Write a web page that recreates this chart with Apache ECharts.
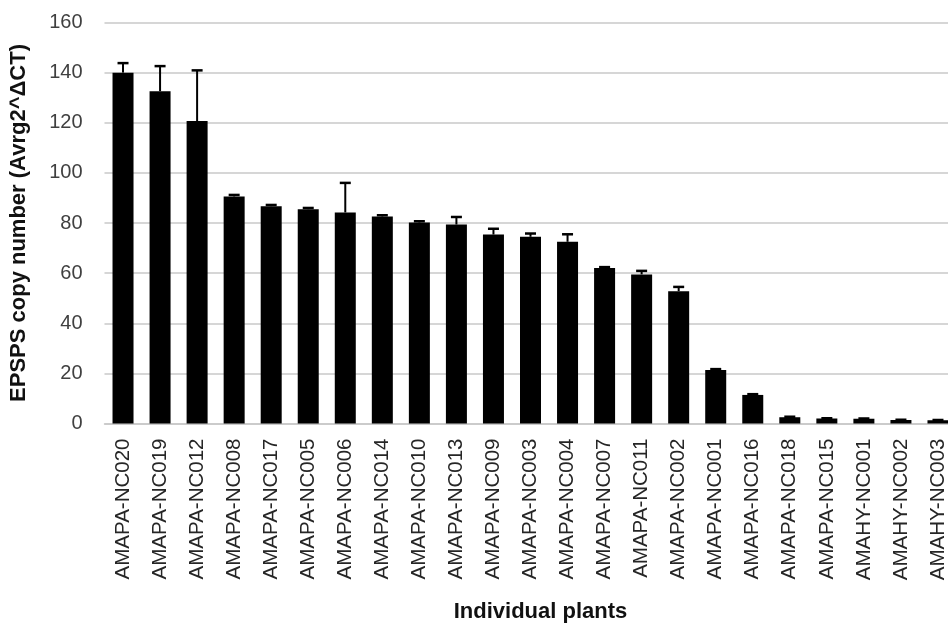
<!DOCTYPE html>
<html>
<head>
<meta charset="utf-8">
<script src="https://cdn.jsdelivr.net/npm/echarts@6/dist/echarts.min.js"></script>
<style>html,body{margin:0;padding:0;background:#fff}#c{width:948px;height:628px}</style>
</head>
<body>
<div id="c"></div>
<script>
const categories = ["AMAPA-NC020","AMAPA-NC019","AMAPA-NC012","AMAPA-NC008","AMAPA-NC017","AMAPA-NC005","AMAPA-NC006","AMAPA-NC014","AMAPA-NC010","AMAPA-NC013","AMAPA-NC009","AMAPA-NC003","AMAPA-NC004","AMAPA-NC007","AMAPA-NC011","AMAPA-NC002","AMAPA-NC001","AMAPA-NC016","AMAPA-NC018","AMAPA-NC015","AMAHY-NC001","AMAHY-NC002","AMAHY-NC003"];
const copyNumber = [140.0,132.6,120.7,90.6,86.7,85.5,84.2,82.6,80.2,79.4,75.4,74.5,72.5,62.0,59.5,52.8,21.3,11.4,2.5,2.0,1.9,1.4,1.3];
const errorUp = [3.8,10.0,20.2,0.6,0.5,0.5,11.8,0.5,0.5,3.0,2.3,1.3,3.0,0.4,1.4,1.7,0.4,0.3,0.2,0.1,0.1,0.1,0.1];
const yTicks = [0,20,40,60,80,100,120,140,160];

const chart = echarts.init(document.getElementById('c'));
const errData = copyNumber.map((v, i) => [i, v, v + errorUp[i]]);
chart.setOption({
  animation: false,
  grid: { left: 104.5, top: 22.5, width: 852, height: 401, containLabel: false, outerBoundsMode: 'none' },
  xAxis: {
    type: 'category',
    data: categories,
    axisLine: { lineStyle: { color: '#c8c8c8', width: 1.5 } },
    axisTick: { show: false },
    axisLabel: { rotate: 90, margin: 15, fontSize: 20.5, color: '#262626', fontFamily: 'Liberation Sans', interval: 0 },
    name: 'Individual plants',
    nameLocation: 'middle',
    nameGap: 177,
    nameTextStyle: { fontSize: 22, fontWeight: 'bold', color: '#111', fontFamily: 'Liberation Sans', padding: [0, 0, 0, 20] }
  },
  yAxis: {
    type: 'value',
    min: yTicks[0], max: yTicks[yTicks.length - 1], interval: 20,
    axisLine: { show: false },
    axisTick: { show: false },
    splitLine: { lineStyle: { color: '#c8c8c8', width: 1.5 } },
    axisLabel: { margin: 22, fontSize: 20, color: '#404040', fontFamily: 'Liberation Sans' },
    name: 'EPSPS copy number (Avrg2^ΔCT)',
    nameLocation: 'middle',
    nameGap: 75,
    nameTextStyle: { fontSize: 22, fontWeight: 'bold', color: '#111', fontFamily: 'Liberation Sans' }
  },
  series: [
    {
      type: 'bar',
      data: copyNumber,
      barWidth: 21,
      itemStyle: { color: '#000' }
    },
    {
      type: 'custom',
      data: errData,
      z: 3,
      renderItem: function (params, api) {
        const i = api.value(0);
        const lo = api.coord([i, api.value(1)]);
        const hi = api.coord([i, api.value(2)]);
        const hw = 5.5;
        return {
          type: 'group',
          children: [
            { type: 'line', shape: { x1: lo[0], y1: lo[1], x2: hi[0], y2: hi[1] }, style: { stroke: '#000', lineWidth: 2 } },
            { type: 'line', shape: { x1: hi[0] - hw, y1: hi[1], x2: hi[0] + hw, y2: hi[1] }, style: { stroke: '#000', lineWidth: 2.5 } }
          ]
        };
      }
    }
  ]
});
</script>
</body>
</html>
